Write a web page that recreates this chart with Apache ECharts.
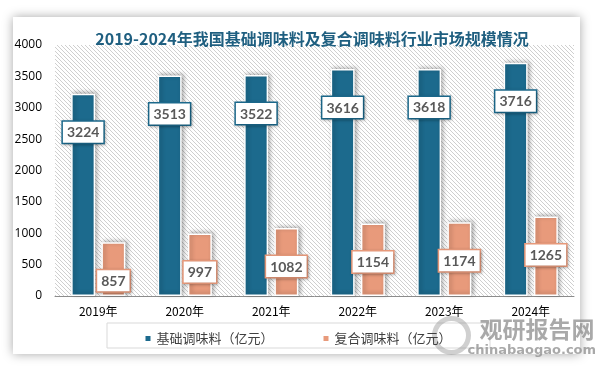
<!DOCTYPE html>
<html><head><meta charset="utf-8">
<script src="https://cdn.jsdelivr.net/npm/echarts@6/dist/echarts.min.js"></script>
<style>html,body{margin:0;padding:0;background:#fff;}#c{width:595px;height:367px;}</style>
</head><body><div id="c"></div>
<script>
const categories = ['2019年','2020年','2021年','2022年','2023年','2024年'];
const basicValues = [3224, 3513, 3522, 3616, 3618, 3716];
const compoundValues = [857, 997, 1082, 1154, 1174, 1265];
const seriesNames = ['基础调味料（亿元）','复合调味料（亿元）'];
const titleText = '2019-2024年我国基础调味料及复合调味料行业市场规模情况';

const BLUE = '#1c6a8d', ORANGE = '#e89a7b';
// hatch pattern
const pc = document.createElement('canvas');
pc.width = 4; pc.height = 4;
const px = pc.getContext('2d');
px.fillStyle = '#ffffff'; px.fillRect(0,0,4,4);
px.strokeStyle = '#cfcfcf'; px.lineWidth = 1;
px.beginPath(); px.moveTo(-1,-1); px.lineTo(5,5); px.stroke();
px.beginPath(); px.moveTo(-1,3); px.lineTo(1,5); px.stroke();
px.beginPath(); px.moveTo(3,-1); px.lineTo(5,1); px.stroke();

const chart = echarts.init(document.getElementById('c'), null, {renderer:'canvas'});
function labelStyle(color){
  return {show:true, position:'insideTop', distance:28, color:'#595959', fontFamily:'Lato', fontWeight:'bold', fontSize:14,
    backgroundColor:'#fff', borderColor:color, borderWidth:1.5, padding:[4,4,3,4],
    shadowColor:'rgba(0,0,0,0.25)', shadowBlur:3, shadowOffsetX:1, shadowOffsetY:1};
}
chart.setOption({
  animation:false,
  backgroundColor:'#ffffff',
  graphic:[
    {type:'rect', shape:{x:13,y:17,width:567,height:337}, style:{fill:'#fff', shadowColor:'rgba(0,0,0,0.35)', shadowBlur:10}, z:-10, silent:true},
    {type:'rect', shape:{x:107,y:323,width:383,height:25}, style:{fill:'none', stroke:'#d9d9d9', lineWidth:1}, z:-5, silent:true},
    {type:'group', left:432, top:316, z:100, children:[
      {type:'circle', shape:{cx:20,cy:18,r:17}, style:{fill:'none', stroke:'rgba(150,150,150,0.45)', lineWidth:5}},
      {type:'text', left:48, top:0, style:{text:'观研报告网', font:'bold 23px "Noto Sans CJK SC"', fill:'rgba(140,140,140,0.75)'}},
      {type:'text', left:36, top:27, style:{text:'chinabaogao.com', font:'bold 13px "DejaVu Sans"', fill:'rgba(140,140,140,0.75)'}}
    ]}
  ],
  title:{text:titleText, left:307, textAlign:'center', top:26,
    textStyle:{color:'#1f5f80', fontSize:16, fontWeight:'bold', fontFamily:'"Noto Sans CJK SC"'}},
  legend:{data:seriesNames, left:'center', top:327, itemWidth:7, itemHeight:7, itemGap:48, icon:'rect',
    textStyle:{fontSize:13, color:'#404040', fontFamily:'"Noto Sans CJK SC"'}},
  grid:{left:55, right:21, top:45, bottom:71, show:true, backgroundColor:{image:pc, repeat:'repeat'}, borderWidth:0},
  xAxis:{type:'category', data:categories,
    axisLine:{lineStyle:{color:'#8c8c8c', width:1}}, axisTick:{show:false},
    axisLabel:{color:'#000', fontSize:12, margin:9, fontFamily:'"Noto Sans CJK SC"'}},
  yAxis:{type:'value', min:0, max:4000, interval:500,
    axisLine:{show:false}, axisTick:{show:false}, splitLine:{show:false},
    axisLabel:{color:'#000', fontSize:12, margin:13, fontFamily:'"Open Sans"', formatter:function(v){return String(v);}}},
  series:[
    {name:seriesNames[0], type:'bar', data:basicValues, barWidth:24, barGap:'26%',
      itemStyle:{color:BLUE, borderColor:'#fff', borderWidth:1.5, shadowColor:'rgba(0,0,0,0.3)', shadowBlur:4, shadowOffsetX:2, shadowOffsetY:-1},
      label:labelStyle(BLUE)},
    {name:seriesNames[1], type:'bar', data:compoundValues, barWidth:24,
      itemStyle:{color:ORANGE, borderColor:'#fff', borderWidth:1.5, shadowColor:'rgba(0,0,0,0.3)', shadowBlur:4, shadowOffsetX:2, shadowOffsetY:-1},
      label:labelStyle(ORANGE)}
  ]
});
</script></body></html>
